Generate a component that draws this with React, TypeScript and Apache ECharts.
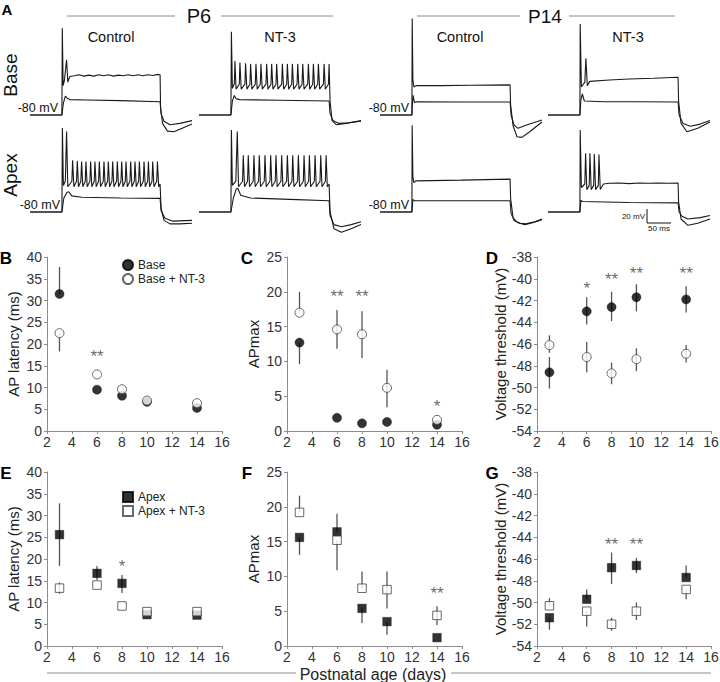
import React, { useEffect, useRef } from "react";
import * as echarts from "echarts";

const FONT = "'Liberation Sans', Arial, Helvetica, sans-serif";

// ---------------- Panel A: membrane potential traces [ms from step onset, mV] ----------------
const p6BaseCtrlSupra = [[-65,-80],[0,-80],[0.8,44],[2.5,-38],[5,-31],[9.5,-1],[12,-33],[16,-25],[25,-24],[35,-22.5],[45,-24.5],[55,-23],[65,-24.5],[75,-22.5],[85,-24],[95,-22.5],[105,-24.5],[115,-23],[125,-24],[135,-22.5],[145,-24],[155,-22.5],[165,-24],[175,-22.5],[185,-23.5],[195,-22],[200,-22.5],[201,-70],[205,-92],[215,-103],[228,-104],[245,-99],[265,-93]];
const p6BaseCtrlSub = [[-65,-80],[0,-80],[3,-63],[7,-53],[11,-56],[16,-58],[50,-58.5],[120,-59.5],[200,-61],[202,-78],[208,-89],[220,-94],[240,-92],[265,-88]];
const p6BaseNt3Supra = [[-65,-80],[0,-80],[1,39],[3,-42],[7,-35],[8.2,-3],[10.5,-43],[17,-36],[18.4,-5],[21,-43],[28.5,-36],[29.9,-6],[32.5,-43],[38.7,-36],[40.1,-7],[42.7,-43],[49.6,-36],[51,-7],[53.6,-43],[59.8,-36],[61.2,-7],[63.8,-43],[71.4,-36],[72.8,-7],[75.4,-43],[81.6,-36],[83,-7],[85.6,-43],[91.8,-36],[93.2,-7],[95.8,-43],[103.4,-36],[104.8,-7],[107.4,-43],[113.6,-36],[115,-7],[117.6,-43],[123.8,-36],[125.2,-7],[127.8,-43],[134.7,-36],[136.1,-7],[138.7,-43],[144.9,-36],[146.3,-7],[148.9,-43],[156.4,-36],[157.8,-7],[160.4,-43],[166.6,-36],[168,-7],[170.6,-43],[176.8,-36],[178.2,-7],[180.8,-43],[188.4,-36],[189.8,-7],[192.4,-43],[198.6,-36],[200,-7],[202,-60],[206,-88],[215,-94],[235,-92],[265,-88]];
const p6BaseNt3Sub = [[-65,-80],[0,-80],[3,-60],[7,-52],[11,-57],[18,-58],[100,-59],[200,-60],[202,-78],[208,-88],[220,-92],[240,-91],[265,-89]];
const p14BaseCtrlSupra = [[-65,-80],[0,-80],[0.6,58],[2,-30],[4,-40],[8,-38],[60,-38],[120,-37.5],[200,-37],[201,-65],[206,-95],[214,-111],[224,-112],[240,-104],[265,-90]];
const p14BaseCtrlSub = [[-65,-80],[0,-80],[1,-62],[2.5,-52],[5,-62],[10,-61],[100,-61.5],[200,-61.5],[202,-80],[208,-94],[216,-99],[235,-94],[265,-87]];
const p14BaseNt3Supra = [[-65,-80],[0,-80],[0.6,50],[3,-40],[10,-33],[12.2,1],[15,-38],[20,-32],[60,-30],[100,-28.5],[150,-27.5],[200,-26],[201,-60],[206,-92],[218,-104],[240,-99],[265,-90]];
const p14BaseNt3Sub = [[-65,-80],[0,-80],[2,-58],[5,-50],[9,-60],[50,-61],[120,-61],[200,-61.5],[202,-80],[210,-92],[225,-96],[245,-93],[265,-88]];
const p6ApexCtrlSupra = [[-65,-80],[0,-80],[1,40],[3,-42],[7,-36],[9.5,35],[12,-44],[20.3,-36],[21.8,-6],[24.3,-44],[29.8,-36],[31.3,-7],[33.8,-44],[38.6,-36],[40.1,-8],[42.6,-44],[47.5,-36],[49,-8],[51.5,-44],[57,-36],[58.5,-8],[61,-44],[65.8,-36],[67.3,-8],[69.8,-44],[74.7,-36],[76.2,-8],[78.7,-44],[84.2,-36],[85.7,-8],[88.2,-44],[93.1,-36],[94.6,-8],[97.1,-44],[101.9,-36],[103.4,-8],[105.9,-44],[111.4,-36],[112.9,-8],[115.4,-44],[120.3,-36],[121.8,-8],[124.3,-44],[129.1,-36],[130.6,-8],[133.1,-44],[138.6,-36],[140.1,-8],[142.6,-44],[147.4,-36],[148.9,-8],[151.4,-44],[156.3,-36],[157.8,-8],[160.3,-44],[165.8,-36],[167.3,-8],[169.8,-44],[174.7,-36],[176.2,-8],[178.7,-44],[183.5,-36],[185,-8],[187.5,-44],[193.1,-36],[194.6,-8],[197.1,-44],[200,-40],[202,-75],[208,-92],[220,-97],[240,-97],[265,-96]];
const p6ApexCtrlSub = [[-65,-80],[0,-80],[4,-60],[10,-52],[14,-51],[20,-57],[40,-59],[120,-60],[200,-60.5],[202,-78],[210,-89],[225,-93],[265,-92]];
const p6ApexNt3Supra = [[-65,-80],[0,-80],[1,37],[3,-42],[10,-36],[13,35],[15.5,-44],[23.7,-36],[25.2,1],[27.7,-44],[33.9,-36],[35.4,1],[37.9,-44],[45.4,-36],[46.9,1],[49.4,-44],[56.3,-36],[57.8,1],[60.3,-44],[67.9,-36],[69.4,1],[71.9,-44],[79.5,-36],[81,1],[83.5,-44],[90.3,-36],[91.8,1],[94.3,-44],[101.9,-36],[103.4,1],[105.9,-44],[113.5,-36],[115,1],[117.5,-44],[124.4,-36],[125.9,1],[128.4,-44],[135.9,-36],[137.4,1],[139.9,-44],[147.5,-36],[149,1],[151.5,-44],[158.4,-36],[159.9,1],[162.4,-44],[169.9,-36],[171.4,1],[173.9,-44],[181.5,-36],[183,1],[185.5,-44],[192.4,-36],[193.9,1],[196.4,-44],[200,-40],[202,-80],[210,-104],[225,-109],[245,-104],[265,-98]];
const p6ApexNt3Sub = [[-65,-80],[0,-80],[5,-60],[11,-47],[14,-46],[20,-56],[40,-60],[120,-62],[200,-64],[202,-85],[210,-98],[225,-101],[245,-98],[265,-94]];
const p14ApexCtrlSupra = [[-65,-80],[0,-80],[0.5,44],[2,-30],[4,-38],[8,-35.5],[100,-34.5],[200,-33],[201,-60],[206,-88],[215,-95],[230,-98],[248,-95],[265,-91]];
const p14ApexCtrlSub = [[-65,-80],[0,-80],[2,-62],[5,-64],[100,-64],[200,-64],[202,-82],[208,-92],[220,-96],[232,-97],[250,-94],[265,-90]];
const p14ApexNt3Supra = [[-65,-80],[0,-80],[0.6,37],[3,-45],[10,-40],[11.6,4],[14,-48],[19,-42],[20.4,4],[23,-48],[28,-42],[29.3,3],[32,-48],[37.5,-42],[38.8,2],[41.5,-48],[48,-40],[60,-39],[80,-38.5],[100,-39.5],[120,-38.5],[140,-39],[160,-38.5],[180,-39],[200,-38.5],[201,-65],[206,-90],[220,-99],[240,-96],[265,-90]];
const p14ApexNt3Sub = [[-65,-80],[0,-80],[2,-63],[5,-65],[100,-66.5],[200,-67],[202,-80],[208,-86],[220,-90],[245,-88],[265,-85]];

// ---------------- Panels B–G: postnatal age and means with error-bar ends ----------------
const AGES = [3, 6, 8, 10, 14];

// B: Base AP latency (ms)
const baseLat = [31.5, 9.5, 8.1, 6.7, 5.3];
const baseLatLo = [31.5, 9.5, 8.1, 6.7, 5.3];
const baseLatHi = [37.7, 9.5, 8.1, 6.7, 5.3];
const baseNtLat = [22.5, 13.0, 9.6, 7.0, 6.4];
const baseNtLatLo = [18.3, 13.0, 9.6, 7.0, 6.4];
const baseNtLatHi = [22.5, 13.0, 9.6, 7.0, 6.4];
const bStars = [[6, 17.8, "**"]];

// C: Base APmax
const baseAP = [12.7, 1.9, 1.1, 1.3, 0.9];
const baseAPLo = [9.6, 1.9, 1.1, 1.3, 0.9];
const baseAPHi = [12.7, 1.9, 1.1, 1.3, 0.9];
const baseNtAP = [17.0, 14.6, 13.9, 6.2, 1.6];
const baseNtAPLo = [17.0, 11.8, 10.5, 3.4, 1.6];
const baseNtAPHi = [20.0, 17.4, 17.2, 8.8, 1.6];
const cStars = [[6, 19.8, "**"], [8, 19.8, "**"], [14, 3.9, "*"]];

// D: Base voltage threshold (mV)
const baseTh = [-48.6, -43.0, -42.6, -41.7, -41.9];
const baseThLo = [-50.1, -44.2, -43.9, -43.0, -43.1];
const baseThHi = [-47.2, -41.7, -41.2, -40.5, -40.7];
const baseNtTh = [-46.1, -47.2, -48.7, -47.4, -46.9];
const baseNtThLo = [-46.8, -48.6, -49.7, -48.5, -47.7];
const baseNtThHi = [-45.2, -45.8, -47.7, -46.4, -46.1];
const dStars = [[6, -40.6, "*"], [8, -39.8, "**"], [10, -39.2, "**"], [14, -39.2, "**"]];

// E: Apex AP latency (ms)
const apexLat = [25.6, 16.7, 14.4, 7.2, 7.1];
const apexLatLo = [18.4, 15.2, 12.2, 7.2, 7.1];
const apexLatHi = [32.8, 18.4, 16.3, 7.2, 7.1];
const apexNtLat = [13.3, 14.0, 9.2, 7.9, 7.9];
const apexNtLatLo = [12.0, 14.0, 9.2, 7.9, 7.9];
const apexNtLatHi = [14.6, 14.0, 9.2, 7.9, 7.9];
const eStars = [[8, 19.0, "*"]];

// F: Apex APmax
const apexAP = [15.6, 16.4, 5.4, 3.5, 1.2];
const apexAPLo = [13.1, 16.4, 3.3, 1.6, 1.2];
const apexAPHi = [15.6, 19.0, 5.4, 3.5, 1.2];
const apexNtAP = [19.2, 15.2, 8.3, 8.1, 4.4];
const apexNtAPLo = [19.2, 10.9, 8.3, 5.4, 3.0];
const apexNtAPHi = [21.6, 15.2, 10.7, 10.7, 5.7];
const fStars = [[14, 8.0, "**"]];

// G: Apex voltage threshold (mV)
const apexTh = [-51.4, -49.7, -46.8, -46.6, -47.7];
const apexThLo = [-52.5, -49.7, -48.3, -47.3, -47.7];
const apexThHi = [-51.4, -48.8, -45.4, -45.9, -46.6];
const apexNtTh = [-50.3, -50.8, -52.0, -50.8, -48.8];
const apexNtThLo = [-50.3, -52.2, -52.6, -51.6, -49.7];
const apexNtThHi = [-49.6, -50.8, -51.4, -50.0, -48.8];
const gStars = [[8, -44.4, "**"], [10, -44.4, "**"]];

function buildOption() {
  const traceGrids = [
    { left: 30, top: 10 }, { left: 199, top: 10 }, { left: 380, top: 10 }, { left: 548, top: 10 },
    { left: 30, top: 107 }, { left: 199, top: 107 }, { left: 380, top: 107 }, { left: 548, top: 107 },
  ];
  const traceSets = [
    [p6BaseCtrlSupra, p6BaseCtrlSub], [p6BaseNt3Supra, p6BaseNt3Sub],
    [p14BaseCtrlSupra, p14BaseCtrlSub], [p14BaseNt3Supra, p14BaseNt3Sub],
    [p6ApexCtrlSupra, p6ApexCtrlSub], [p6ApexNt3Supra, p6ApexNt3Sub],
    [p14ApexCtrlSupra, p14ApexCtrlSub], [p14ApexNt3Supra, p14ApexNt3Sub],
  ];

  const panels = [
    { grid: { left: 47, top: 257, width: 175, height: 174 }, yMin: 0, yMax: 40, yInt: 5, yName: "AP latency (ms)", gap: 26, symbol: "circle", size: 9,
      f: ["Base", baseLat, baseLatLo, baseLatHi], o: ["Base + NT-3", baseNtLat, baseNtLatLo, baseNtLatHi], stars: bStars },
    { grid: { left: 287, top: 257, width: 175, height: 174 }, yMin: 0, yMax: 25, yInt: 5, yName: "APmax", gap: 26, symbol: "circle", size: 9,
      f: ["Base C", baseAP, baseAPLo, baseAPHi], o: ["Base + NT-3 C", baseNtAP, baseNtAPLo, baseNtAPHi], stars: cStars },
    { grid: { left: 537, top: 257, width: 174, height: 174 }, yMin: -54, yMax: -38, yInt: 2, yName: "Voltage threshold (mV)", gap: 28, symbol: "circle", size: 9,
      f: ["Base D", baseTh, baseThLo, baseThHi], o: ["Base + NT-3 D", baseNtTh, baseNtThLo, baseNtThHi], stars: dStars },
    { grid: { left: 47, top: 472, width: 175, height: 174 }, yMin: 0, yMax: 40, yInt: 5, yName: "AP latency (ms)", gap: 26, symbol: "rect", size: 8.5,
      f: ["Apex", apexLat, apexLatLo, apexLatHi], o: ["Apex + NT-3", apexNtLat, apexNtLatLo, apexNtLatHi], stars: eStars },
    { grid: { left: 287, top: 472, width: 175, height: 174 }, yMin: 0, yMax: 25, yInt: 5, yName: "APmax", gap: 26, symbol: "rect", size: 8.5,
      f: ["Apex F", apexAP, apexAPLo, apexAPHi], o: ["Apex + NT-3 F", apexNtAP, apexNtAPLo, apexNtAPHi], stars: fStars },
    { grid: { left: 537, top: 472, width: 174, height: 174 }, yMin: -54, yMax: -38, yInt: 2, yName: "Voltage threshold (mV)", gap: 28, symbol: "rect", size: 8.5,
      f: ["Apex G", apexTh, apexThLo, apexThHi], o: ["Apex + NT-3 G", apexNtTh, apexNtThLo, apexNtThHi], stars: gStars },
  ];

  const grid: any[] = [];
  const xAxis: any[] = [];
  const yAxis: any[] = [];
  const series: any[] = [];

  traceGrids.forEach((g, i) => {
    grid.push({ left: g.left, top: g.top, width: 162, height: 126, outerBoundsMode: "none" });
    xAxis.push({ type: "value", gridIndex: i, min: -65, max: 265, show: false });
    yAxis.push({ type: "value", gridIndex: i, min: -110, max: 70, show: false });
    traceSets[i].forEach((d, k) => {
      series.push({
        type: "line", name: "trace" + i + "_" + k, xAxisIndex: i, yAxisIndex: i, data: d,
        showSymbol: false, symbol: "none", clip: false, silent: true,
        lineStyle: { color: "#1a1a1a", width: 1.1 }, z: 2,
      });
    });
  });

  const axisColor = "#8c8c8c";
  const errRender = (params: any, api: any) => {
    const a = api.coord([api.value(0), api.value(1)]);
    const b = api.coord([api.value(0), api.value(2)]);
    return { type: "line", shape: { x1: a[0], y1: a[1], x2: b[0], y2: b[1] }, style: { stroke: "#555", lineWidth: 1.3 } };
  };

  panels.forEach((p, k) => {
    const gi = 8 + k;
    grid.push({ ...p.grid, outerBoundsMode: "none" });
    xAxis.push({
      type: "value", gridIndex: gi, min: 2, max: 16, interval: 2,
      axisLine: { show: true, onZero: false, lineStyle: { color: axisColor, width: 1 } },
      axisTick: { show: true, length: 3, lineStyle: { color: axisColor } },
      axisLabel: { fontSize: 14, color: "#333", margin: 4, fontFamily: FONT },
      splitLine: { show: false },
    });
    yAxis.push({
      type: "value", gridIndex: gi, min: p.yMin, max: p.yMax, interval: p.yInt,
      name: p.yName, nameLocation: "middle", nameRotate: 90, nameGap: p.gap,
      nameTextStyle: { fontSize: 15, color: "#222", fontFamily: FONT },
      axisLine: { show: true, onZero: false, lineStyle: { color: axisColor, width: 1 } },
      axisTick: { show: true, length: 3, lineStyle: { color: axisColor } },
      axisLabel: { fontSize: 14, color: "#333", margin: 5, fontFamily: FONT },
      splitLine: { show: false },
    });
    [p.f, p.o].forEach((s: any, j) => {
      series.push({
        type: "custom", name: "err" + k + "_" + j, xAxisIndex: gi, yAxisIndex: gi,
        data: AGES.map((a, i) => [a, s[2][i], s[3][i]]),
        encode: { x: 0, y: [1, 2] }, renderItem: errRender, silent: true, z: 2,
      });
    });
    series.push({
      type: "scatter", name: p.f[0], xAxisIndex: gi, yAxisIndex: gi,
      data: AGES.map((a, i) => [a, (p.f[1] as number[])[i]]),
      symbol: p.symbol, symbolSize: p.size,
      itemStyle: { color: "#000", borderColor: "#000", borderWidth: 0.5 }, z: 3,
    });
    series.push({
      type: "scatter", name: p.o[0], xAxisIndex: gi, yAxisIndex: gi,
      data: AGES.map((a, i) => [a, (p.o[1] as number[])[i]]),
      symbol: p.symbol, symbolSize: p.size,
      itemStyle: { color: "#fff", borderColor: "#444", borderWidth: 1 }, z: 4,
    });
    series.push({
      type: "scatter", name: "stars" + k, xAxisIndex: gi, yAxisIndex: gi,
      data: p.stars.map((s: any) => ({ value: [s[0], s[1]], name: s[2] })),
      symbolSize: 0, silent: true, z: 5,
      label: { show: true, position: "inside", formatter: "{b}", fontSize: 17, color: "#444", offset: [0, 3], fontFamily: FONT },
    });
  });

  const txt = (text: string, x: number, y: number, size: number, extra: any = {}) => ({
    type: "text", x, y, silent: true, ...extra,
    style: { text, fontSize: size, fontFamily: FONT, fill: extra.fill || "#111", align: extra.align || "center", verticalAlign: "middle", fontWeight: extra.bold ? "bold" : "normal" },
  });
  const ln = (x1: number, y1: number, x2: number, y2: number, color = "#8c8c8c") => ({
    type: "line", silent: true, shape: { x1, y1, x2, y2 }, style: { stroke: color, lineWidth: 1 },
  });

  const graphic: any[] = [
    txt("A", 7, 9, 15, { bold: true, fill: "#000" }),
    txt("P6", 199, 16, 20),
    ln(67, 16, 175, 16), ln(221, 16, 333, 16),
    txt("P14", 545, 16, 19),
    ln(417, 16, 520, 16), ln(569, 16, 675, 16),
    txt("Control", 111, 37, 14.5), txt("NT-3", 280, 37, 14.5),
    txt("Control", 460, 37, 14.5), txt("NT-3", 628, 37, 14.5),
    txt("Base", 10, 75, 19, { rotation: Math.PI / 2 }),
    txt("Apex", 10, 175, 19, { rotation: Math.PI / 2 }),
    txt("-80 mV", 58, 108, 12.5, { align: "right" }),
    txt("-80 mV", 60, 205, 12.5, { align: "right" }),
    txt("-80 mV", 409, 108, 12.5, { align: "right" }),
    txt("-80 mV", 409, 205, 12.5, { align: "right" }),
    ln(647, 209, 647, 223, "#111"), ln(647, 223, 671, 223, "#111"),
    txt("20 mV", 645, 216, 8, { align: "right" }),
    txt("50 ms", 659, 228, 8),
    txt("B", 6, 258, 17, { bold: true, fill: "#000" }),
    txt("C", 247, 258, 17, { bold: true, fill: "#000" }),
    txt("D", 492, 258, 17, { bold: true, fill: "#000" }),
    txt("E", 6, 473, 17, { bold: true, fill: "#000" }),
    txt("F", 247, 473, 17, { bold: true, fill: "#000" }),
    txt("G", 492, 473, 17, { bold: true, fill: "#000" }),
    ln(47, 673, 296, 673), ln(451, 673, 711, 673),
    txt("Postnatal age (days)", 373, 674, 16, { fill: "#222" }),
  ];

  const legendCommon = {
    orient: "vertical", padding: 0, itemWidth: 10, itemHeight: 10, itemGap: 2,
    textStyle: { fontSize: 12, color: "#222", fontFamily: FONT }, selectedMode: false,
  };

  return {
    animation: false,
    backgroundColor: "#ffffff",
    textStyle: { fontFamily: FONT },
    grid, xAxis, yAxis, series, graphic,
    legend: [
      { ...legendCommon, left: 122, top: 259, data: ["Base", "Base + NT-3"] },
      { ...legendCommon, left: 122, top: 491, data: ["Apex", "Apex + NT-3"] },
    ],
  };
}

export default function App() {
  const ref = useRef<HTMLDivElement>(null);
  useEffect(() => {
    if (!ref.current) return;
    const chart = echarts.init(ref.current, undefined, { renderer: "svg" });
    chart.setOption(buildOption() as any);
    return () => chart.dispose();
  }, []);
  return (
    <div
      ref={ref}
      style={{ position: "absolute", left: 0, top: 0, width: 720, height: 682, background: "#fff" }}
    />
  );
}
